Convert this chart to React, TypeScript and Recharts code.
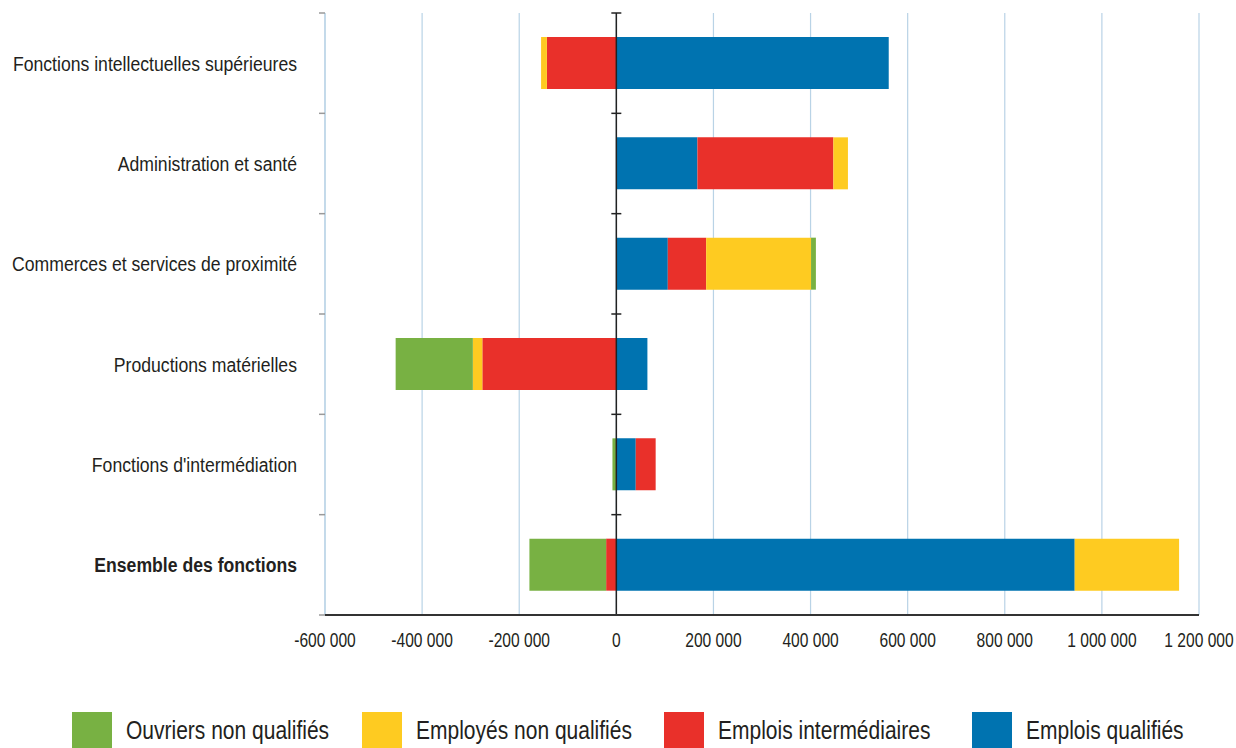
import React from "react";
import {
  Bar,
  BarChart,
  CartesianGrid,
  Legend,
  ReferenceLine,
  XAxis,
  YAxis,
} from "recharts";

const categories = [
  "Fonctions intellectuelles supérieures",
  "Administration et santé",
  "Commerces et services de proximité",
  "Productions matérielles",
  "Fonctions d'intermédiation",
  "Ensemble des fonctions",
];

const ouvriersNonQualifies = [0, 0, 10000, -159000, -8000, -158000];
const employesNonQualifies = [-12000, 30000, 216000, -19500, 0, 215000];
const emploisIntermediaires = [-143000, 280000, 79000, -276000, 41000, -21000];
const emploisQualifies = [561000, 167000, 106000, 64000, 40000, 944000];

const xTicks = [
  -600000, -400000, -200000, 0, 200000, 400000, 600000, 800000, 1000000,
  1200000,
];

// stacking order: first series sits next to zero
const series = [
  { key: "qualifies", name: "Emplois qualifiés", color: "#0073b0" },
  { key: "intermediaires", name: "Emplois intermédiaires", color: "#e9302a" },
  { key: "employes", name: "Employés non qualifiés", color: "#fecb21" },
  { key: "ouvriers", name: "Ouvriers non qualifiés", color: "#78b143" },
];

const legendOrder = ["ouvriers", "employes", "intermediaires", "qualifies"];
const legendLeft = [72, 362, 664, 972];

const data = categories.map((name, i) => ({
  name,
  ouvriers: ouvriersNonQualifies[i],
  employes: employesNonQualifies[i],
  intermediaires: emploisIntermediaires[i],
  qualifies: emploisQualifies[i],
}));

const FONT = "'Liberation Sans', Arial, sans-serif";
const TEXT = "#231f20";
const GRID = "#b9d3e6";

const formatThousands = (v: number) =>
  v.toString().replace(/\B(?=(\d{3})+(?!\d))/g, " ");

// the original uses a condensed face, so squeeze the glyphs horizontally
function CategoryTick(props: any) {
  const { x, y, payload } = props;
  const bold = payload.value === "Ensemble des fonctions";
  return (
    <text
      transform={`translate(${x},${y}) scale(0.84,1)`}
      textAnchor="end"
      dominantBaseline="central"
      fontFamily={FONT}
      fontSize={21}
      fontWeight={bold ? 700 : 400}
      fill={TEXT}
    >
      {payload.value}
    </text>
  );
}

function ValueTick(props: any) {
  const { x, y, payload } = props;
  return (
    <text
      transform={`translate(${x},${y}) scale(0.78,1)`}
      textAnchor="middle"
      dy="0.71em"
      fontFamily={FONT}
      fontSize={20}
      fill={TEXT}
    >
      {formatThousands(payload.value)}
    </text>
  );
}

// vertical line with small ticks at each band boundary
function bandTickLine(
  color: string,
  tickColor: string,
  left: number,
  right: number,
  width: number
) {
  return (props: any) => {
    const { x1, y1, x2, y2 } = props;
    const n = categories.length;
    const marks = [];
    for (let i = 0; i <= n; i++) {
      const y = y1 + ((y2 - y1) * i) / n;
      marks.push(
        <line
          key={i}
          x1={x1 - left}
          x2={x1 + right}
          y1={y}
          y2={y}
          stroke={tickColor}
          strokeWidth={1.5}
        />
      );
    }
    return (
      <g>
        <line x1={x1} y1={y1} x2={x2} y2={y2} stroke={color} strokeWidth={width} />
        {marks}
      </g>
    );
  };
}

function LegendContent() {
  return (
    <div style={{ position: "relative", height: 36, width: 1236 }}>
      {legendOrder.map((k, i) => {
        const s = series.find((d) => d.key === k)!;
        return (
          <div
            key={k}
            style={{
              position: "absolute",
              left: legendLeft[i],
              top: 0,
              height: 36,
              display: "flex",
              alignItems: "center",
              whiteSpace: "nowrap",
            }}
          >
            <div style={{ width: 40, height: 36, background: s.color }} />
            <span
              style={{
                display: "inline-block",
                marginLeft: 14,
                fontFamily: FONT,
                fontSize: 25,
                color: TEXT,
                transform: "scaleX(0.84)",
                transformOrigin: "left center",
              }}
            >
              {s.name}
            </span>
          </div>
        );
      })}
    </div>
  );
}

export default function App() {
  return (
    <div style={{ position: "absolute", left: 0, top: 0, background: "#fff" }}>
      <BarChart
        width={1236}
        height={748}
        data={data}
        layout="vertical"
        stackOffset="sign"
        margin={{ top: 13, right: 37, bottom: 0, left: 0 }}
      >
        <CartesianGrid horizontal={false} stroke={GRID} strokeWidth={1.2} />
        <XAxis
          type="number"
          domain={[-600000, 1200000]}
          ticks={xTicks}
          interval={0}
          height={97}
          tickLine={false}
          tickSize={0}
          tickMargin={18}
          axisLine={{ stroke: "#333", strokeWidth: 2 }}
          tick={<ValueTick />}
        />
        <YAxis
          type="category"
          dataKey="name"
          width={325}
          axisLine={false}
          tickLine={false}
          tickSize={0}
          tickMargin={28}
          tick={<CategoryTick />}
        />
        <ReferenceLine
          x={-600000}
          shape={bandTickLine(GRID, "#9a9a9a", 6, 0, 1.2)}
        />
        {series.map((s) => (
          <Bar
            key={s.key}
            dataKey={s.key}
            name={s.name}
            stackId="total"
            fill={s.color}
            barSize={52}
            isAnimationActive={false}
          />
        ))}
        <ReferenceLine x={0} shape={bandTickLine("#222", "#222", 5, 5, 1.5)} />
        <Legend
          verticalAlign="bottom"
          content={<LegendContent />}
          wrapperStyle={{ left: 0, width: 1236, bottom: 0 }}
        />
      </BarChart>
    </div>
  );
}
